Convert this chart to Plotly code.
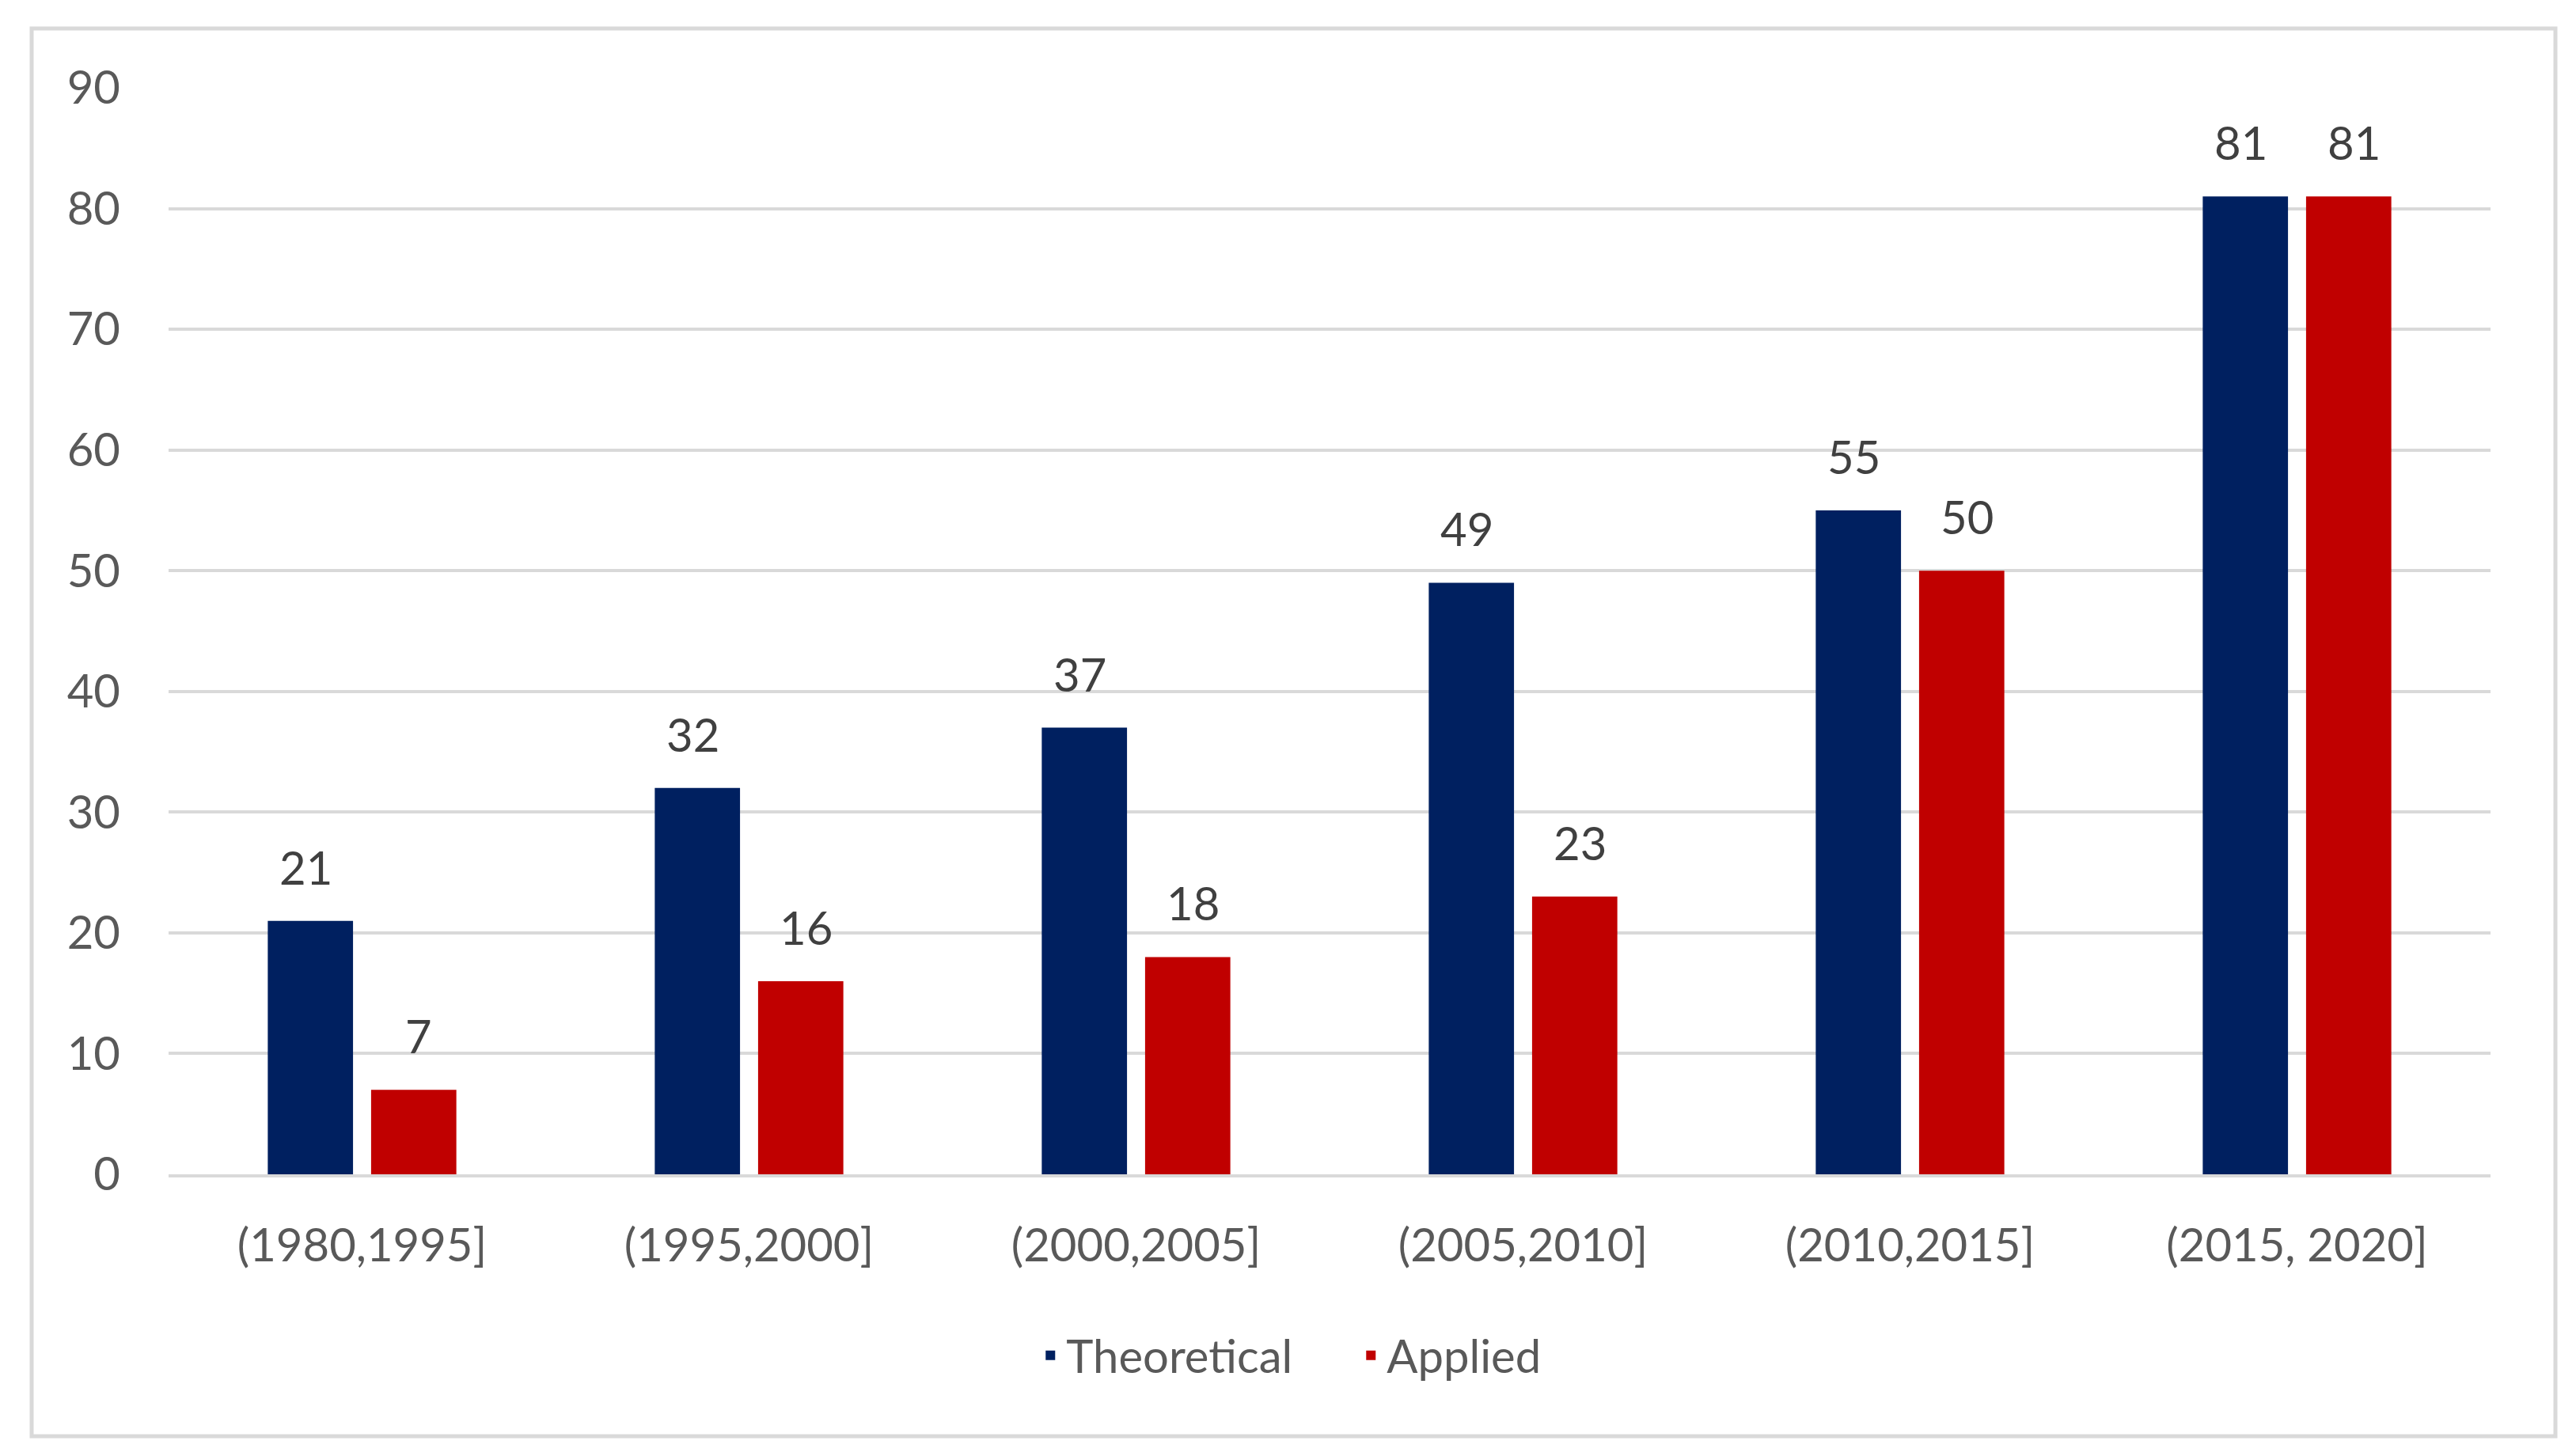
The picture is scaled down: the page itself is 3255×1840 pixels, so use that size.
import plotly.graph_objects as go

categories = ["(1980,1995]", "(1995,2000]", "(2000,2005]", "(2005,2010]", "(2010,2015]", "(2015, 2020]"]
theoretical = [21, 32, 37, 49, 55, 81]
applied = [7, 16, 18, 23, 50, 81]
y_ticks = [0, 10, 20, 30, 40, 50, 60, 70, 80, 90]

NAVY = "#002060"
RED = "#C00000"
FONT = "Lato, Calibri, sans-serif"
FS = 58

fig = go.Figure()
fig.add_trace(go.Bar(name="Theoretical", x=categories, y=theoretical, marker=dict(color=NAVY, line=dict(width=0))))
fig.add_trace(go.Bar(name="Applied", x=categories, y=applied, marker=dict(color=RED, line=dict(width=0))))

# data labels above the bars
annotations = []
for series, shift in ((theoretical, -71.5), (applied, 71.5)):
    for c, v in zip(categories, series):
        annotations.append(dict(x=c, y=v, xref="x", yref="y", text=str(v), showarrow=False,
                                xshift=shift, yshift=32, yanchor="bottom",
                                font=dict(family=FONT, size=FS, color="#404040")))

fig.update_layout(
    width=3255, height=1840,
    margin=dict(l=205, r=116, t=103, b=364),
    paper_bgcolor="white", plot_bgcolor="white",
    barmode="group", bargap=0.466, bargroupgap=0.175,
    font=dict(family=FONT, size=FS, color="#595959"),
    showlegend=True,
    legend=dict(orientation="h", x=0.511, xanchor="center", y=-0.1668, yanchor="middle",
                font=dict(family=FONT, size=FS, color="#595959"), itemwidth=30,
                entrywidth=360, traceorder="normal"),
    annotations=annotations,
    shapes=[dict(type="rect", xref="paper", yref="paper", x0=-0.05896, x1=1.02795, y0=-0.24108, y1=1.05463,
                 line=dict(color="#d9d9d9", width=5), fillcolor="rgba(0,0,0,0)", layer="below")],
)
fig.update_xaxes(type="category", showgrid=False, showline=True, linecolor="#d9d9d9", linewidth=4,
                 ticks="", tickfont=dict(family=FONT, size=FS, color="#595959"), ticklabelstandoff=36)
fig.update_yaxes(range=[0, 90], tickvals=y_ticks, showgrid=True, gridcolor="#d9d9d9", gridwidth=4,
                 zeroline=False, showline=False, ticks="",
                 tickfont=dict(family=FONT, size=FS, color="#595959"), ticklabelstandoff=60)

fig.write_html("out.html")
